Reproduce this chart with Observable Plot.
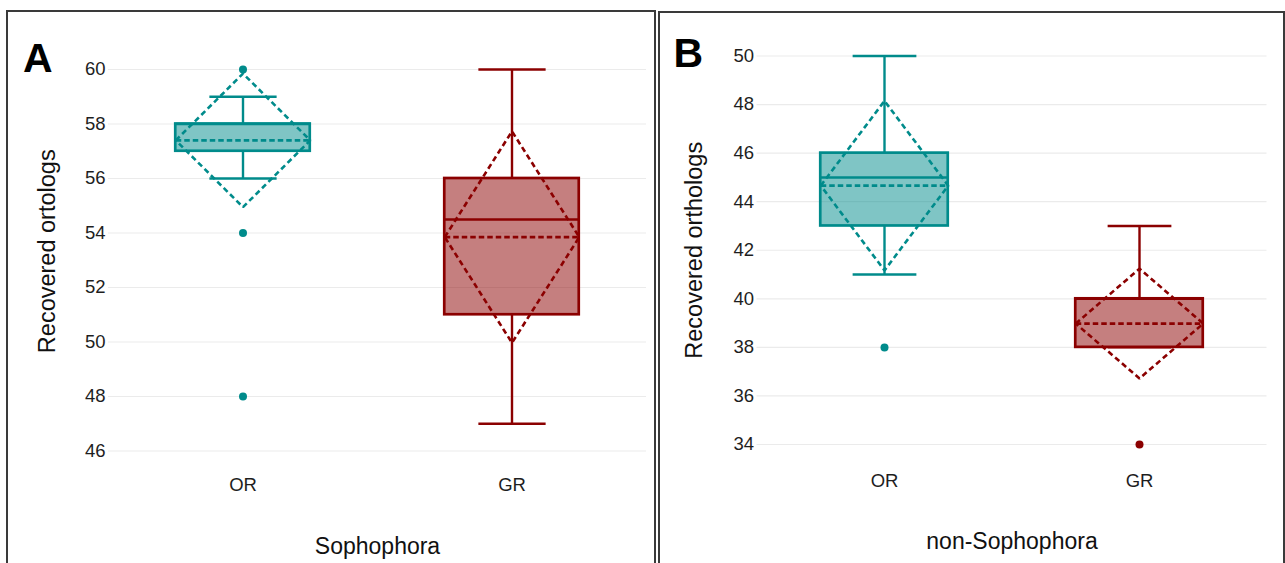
<!DOCTYPE html>
<html>
<head>
<meta charset="utf-8">
<script src="https://cdn.jsdelivr.net/npm/d3@7"></script>
<script src="https://cdn.jsdelivr.net/npm/@observablehq/plot@0.6"></script>
<style>
  html, body { margin: 0; padding: 0; background: #fff; }
  #wrap { position: relative; width: 1285px; height: 563px; overflow: hidden; background: #fff; font-family: "Liberation Sans", Arial, sans-serif; }
  .chart { position: absolute; top: 0; }
  .frame { position: absolute; box-sizing: border-box; border: 2px solid #3a3a3a; z-index: 5; pointer-events: none; }
</style>
</head>
<body>
<div id="wrap">
  <div id="chartA" class="chart" style="left:0px;width:658px;"></div>
  <div id="chartB" class="chart" style="left:658px;width:627px;"></div>
  <div class="frame" style="left:6px;top:10px;width:650px;height:620px;"></div>
  <div class="frame" style="left:658px;top:11px;width:627px;height:620px;"></div>
</div>
<script>
// ---- data ----
const groups = ["OR", "GR"];
const groupColors = ["#008b8b", "#8b0000"];

// Panel A (Sophophora)
const aQ1 = [57, 51];
const aMedian = [58, 54.5];
const aQ3 = [58, 56];
const aLow = [56, 47];
const aHigh = [59, 60];
const aMean = [57.4, 53.85];
const aHalf = [2.45, 3.88];
const aOutliers = [[60, 54, 48], []];
const aTicks = [46, 48, 50, 52, 54, 56, 58, 60];

// Panel B (non-Sophophora)
const bQ1 = [43, 38];
const bMedian = [45, 40];
const bQ3 = [46, 40];
const bLow = [41, 38];
const bHigh = [50, 43];
const bMean = [44.66, 38.98];
const bHalf = [3.49, 2.26];
const bOutliers = [[38], [34]];
const bTicks = [34, 36, 38, 40, 42, 44, 46, 48, 50];

function makeChart(cfg) {
  const rows = groups.map((g, i) => ({
    g, x: i + 0.5, color: groupColors[i],
    q1: cfg.q1[i], med: cfg.med[i], q3: cfg.q3[i],
    lo: cfg.lo[i], hi: cfg.hi[i], mean: cfg.mean[i], half: cfg.half[i]
  }));
  const diamond = rows.flatMap(r => [
    {g: r.g, color: r.color, x: r.x - 0.25, y: r.mean},
    {g: r.g, color: r.color, x: r.x, y: r.mean + r.half},
    {g: r.g, color: r.color, x: r.x + 0.25, y: r.mean},
    {g: r.g, color: r.color, x: r.x, y: r.mean - r.half},
    {g: r.g, color: r.color, x: r.x - 0.25, y: r.mean}
  ]);
  const outs = rows.flatMap((r, i) => cfg.outliers[i].map(v => ({x: r.x, y: v, color: r.color})));
  const xPos = rows.map(r => r.x);

  return Plot.plot({
    width: cfg.width,
    height: 563,
    marginLeft: cfg.ml, marginRight: cfg.mr, marginTop: cfg.mt, marginBottom: cfg.mb,
    style: {fontFamily: '"Liberation Sans", Arial, sans-serif', background: "transparent", color: "#222"},
    x: {domain: [0, 2], axis: null},
    y: {domain: cfg.domain, axis: null},
    color: {type: "identity"},
    marks: [
      Plot.gridY(cfg.ticks, {stroke: "#ebebeb", strokeOpacity: 1, strokeWidth: 1.2}),
      Plot.axisY(cfg.ticks, {tickSize: 0, tickPadding: 3, fontSize: 18.5, fill: "#1e1e1e", label: null}),
      Plot.axisX(xPos, {tickSize: 0, tickPadding: cfg.xPad, fontSize: 18.5, fill: "#1e1e1e", label: null,
        tickFormat: v => groups[Math.floor(v)]}),
      Plot.ruleX(rows, {x: "x", y1: "q3", y2: "hi", stroke: "color", strokeWidth: 2.4}),
      Plot.ruleX(rows, {x: "x", y1: "lo", y2: "q1", stroke: "color", strokeWidth: 2.4}),
      Plot.link(rows, {x1: d => d.x - 0.125, x2: d => d.x + 0.125, y1: "hi", y2: "hi", stroke: "color", strokeWidth: 2.4}),
      Plot.link(rows, {x1: d => d.x - 0.125, x2: d => d.x + 0.125, y1: "lo", y2: "lo", stroke: "color", strokeWidth: 2.4}),
      Plot.rect(rows, {x1: d => d.x - 0.25, x2: d => d.x + 0.25, y1: "q1", y2: "q3",
        fill: "color", fillOpacity: 0.5, stroke: "color", strokeWidth: 2.7}),
      Plot.link(rows, {x1: d => d.x - 0.25, x2: d => d.x + 0.25, y1: "med", y2: "med", stroke: "color", strokeWidth: 2.5}),
      Plot.link(rows, {x1: d => d.x - 0.25, x2: d => d.x + 0.25, y1: "mean", y2: "mean", stroke: "color",
        strokeWidth: 2.6, strokeDasharray: "5.5,3"}),
      Plot.line(diamond, {x: "x", y: "y", z: "g", stroke: "color", strokeWidth: 2.6,
        strokeDasharray: "5.5,3.5", strokeLinecap: "butt", strokeLinejoin: "miter"}),
      Plot.dot(outs, {x: "x", y: "y", r: 4, fill: "color", stroke: "none"}),
      Plot.text([cfg.ylabel], {frameAnchor: "left", rotate: -90, dx: cfg.ylDx, dy: cfg.ylDy,
        fontSize: 23.5, textAnchor: "middle", lineAnchor: "middle", fill: "#111"}),
      Plot.text([cfg.xlabel], {frameAnchor: "bottom", dy: cfg.xlDy, fontSize: 23,
        textAnchor: "middle", lineAnchor: "bottom", fill: "#111"}),
      Plot.text([cfg.letter], {frameAnchor: "top-left", dx: cfg.lDx, dy: cfg.lDy, fontSize: 41,
        fontWeight: "bold", textAnchor: "start", lineAnchor: "bottom", fill: "#000"})
    ]
  });
}

document.getElementById("chartA").appendChild(makeChart({
  width: 658, ml: 108, mr: 12, mt: 69, mb: 112.5, domain: [46, 60], ticks: aTicks,
  q1: aQ1, med: aMedian, q3: aQ3, lo: aLow, hi: aHigh, mean: aMean, half: aHalf, outliers: aOutliers,
  xPad: 26.5, ylabel: "Recovered ortologs", ylDx: -61, ylDy: -9, xlabel: "Sophophora", xlDy: 102.5,
  letter: "A", lDx: -85.5, lDy: 2
}));

document.getElementById("chartB").appendChild(makeChart({
  width: 627, ml: 98.5, mr: 18.5, mt: 55.5, mb: 119, domain: [34, 50], ticks: bTicks,
  q1: bQ1, med: bMedian, q3: bQ3, lo: bLow, hi: bHigh, mean: bMean, half: bHalf, outliers: bOutliers,
  xPad: 29, ylabel: "Recovered orthologs", ylDx: -62.5, ylDy: 0, xlabel: "non-Sophophora", xlDy: 104,
  letter: "B", lDx: -83.5, lDy: 11
}));
</script>
</body>
</html>
